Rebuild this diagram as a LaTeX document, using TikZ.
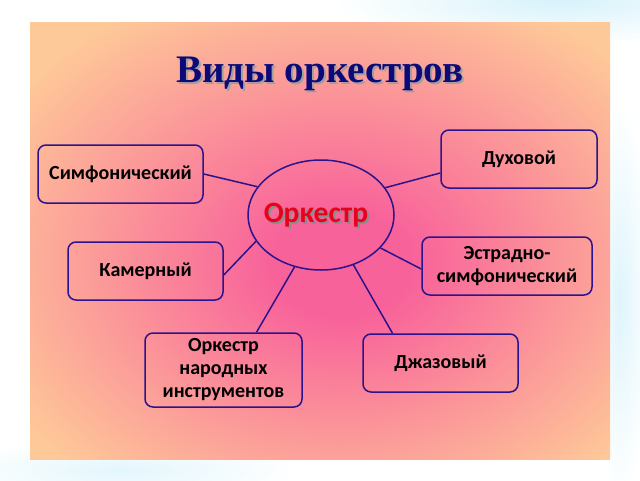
\documentclass[tikz,border=0pt]{standalone}
\usepackage{fontspec}
\setmainfont{Carlito}
\newfontfamily\titlefont{Liberation Serif}
\usetikzlibrary{shapes.geometric,calc}
\definecolor{navy}{HTML}{0C0A78}
\definecolor{bdr}{HTML}{2A138C}
\definecolor{pinkc}{HTML}{F8629A}
\definecolor{peach}{HTML}{FEC998}
\definecolor{redtxt}{HTML}{E8001C}
\definecolor{skyb}{HTML}{D6F2FB}
\pgfdeclareradialshading{panelshade}{\pgfpoint{2bp}{-3bp}}{color(0bp)=(pinkc); color(6bp)=(pinkc); color(33bp)=(peach); color(50bp)=(peach); color(80bp)=(peach)}
\newcommand{\shadowed}[3]{\makebox[0pt][l]{\raisebox{-#3}{\kern#3\textcolor{#2}{#1}}}#1}
\tikzset{
  box/.style={draw=bdr, line width=1.5pt, rounded corners=8pt, align=center,
    font=\bfseries\fontsize{20}{23}\selectfont, text=black, inner sep=0pt},
  link/.style={draw=bdr, line width=1.5pt},
}
\begin{document}
\begin{tikzpicture}[x=1pt,y=-1pt]
\useasboundingbox (0,0) rectangle (640,480);
\fill[white] (0,0) rectangle (640,480);
\shade[inner color=skyb, outer color=white] (560,0) ellipse (230 and 45);
\shade[inner color=skyb!70, outer color=white] (120,470) ellipse (180 and 30);
\shade[inner color=skyb!80, outer color=white] (620,300) ellipse (30 and 200);
% panel
\shade[shading=panelshade] (30,22) rectangle (610,459);
% title
\node[font=\titlefont\bfseries\fontsize{39}{44}\selectfont, text=navy] (title) at (320,75) {\shadowed{Виды оркестров}{gray!75}{2pt}};
% centre
\node[ellipse, draw=bdr, line width=1.5pt, minimum width=146pt, minimum height=110pt, inner sep=0pt] (ell) at (321,215) {};
\node[font=\bfseries\fontsize{29.5}{32}\selectfont, text=redtxt] (ork) at (316,216) {\shadowed{Оркестр}{black!45}{2pt}};
% boxes
\node[box, minimum width=165pt, minimum height=58pt] (sim) at (120.5,174) {Симфонический};
\node[box, minimum width=156pt, minimum height=58pt] (duh) at (519,159) {Духовой};
\node[box, minimum width=155pt, minimum height=58pt] (kam) at (145.5,271) {Камерный};
\node[box, minimum width=170pt, minimum height=58pt] (est) at (507,266) {Эстрадно-\\симфонический};
\node[box, minimum width=157pt, minimum height=74pt] (nar) at (223.5,370) {Оркестр\\народных\\инструментов};
\node[box, minimum width=155pt, minimum height=58pt] (jaz) at (440.5,363) {Джазовый};
% connectors
\draw[link] (sim.east) -- (ell.156);
\draw[link] ([yshift=-14pt]duh.west) -- (ell.23);
\draw[link] ([yshift=-4pt]kam.east) -- (ell.202);
\draw[link] ([yshift=-3pt]est.west) -- (ell.331);
\draw[link] ([xshift=33pt]nar.north) -- (ell.243);
\draw[link] ([xshift=-48pt]jaz.north) -- (ell.303);
\end{tikzpicture}
\end{document}
